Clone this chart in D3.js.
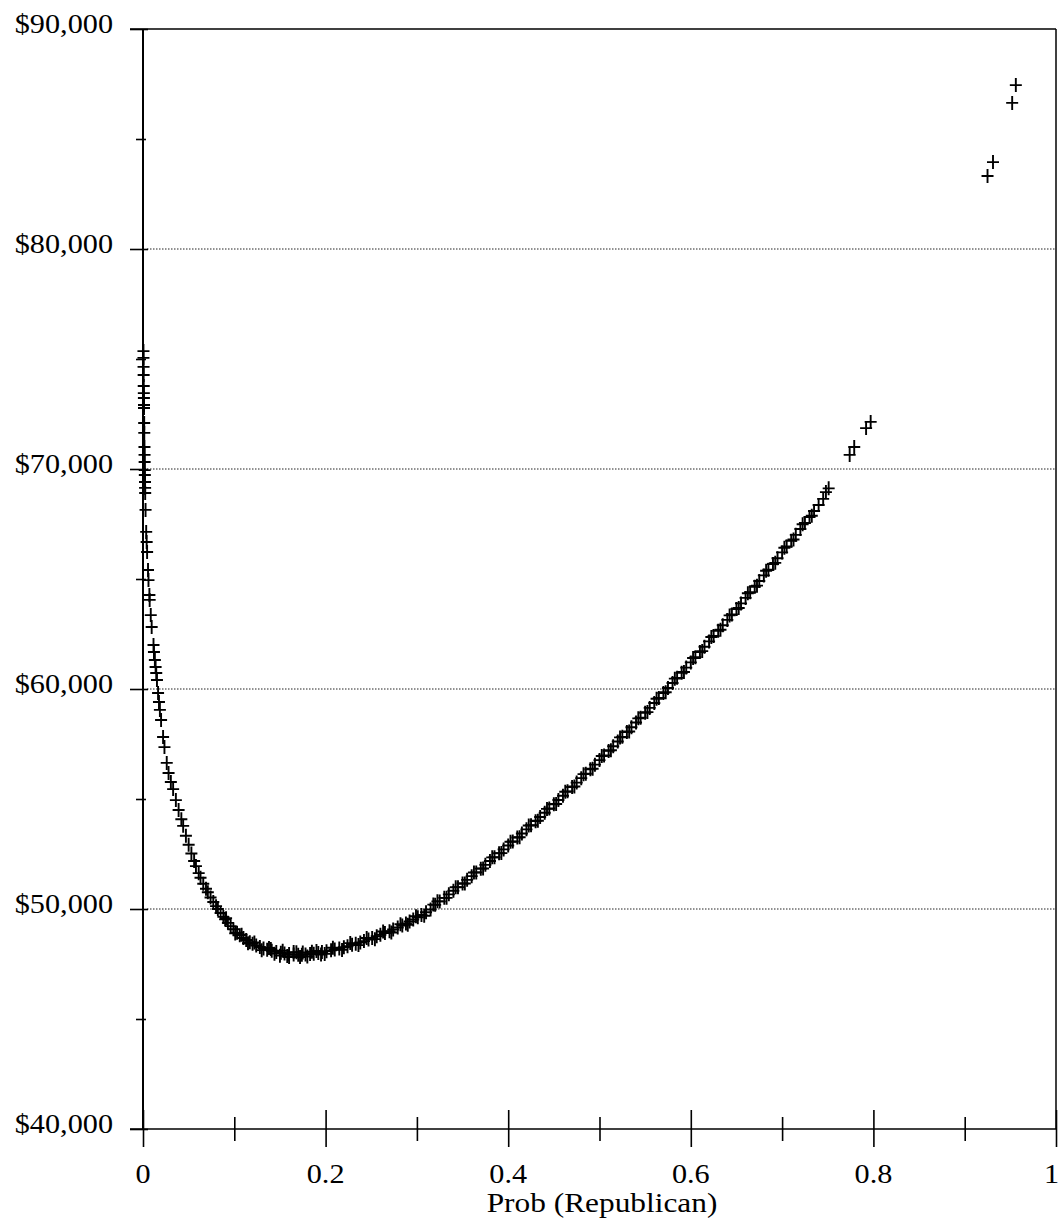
<!DOCTYPE html>
<html>
<head>
<meta charset="utf-8">
<script src="https://cdn.jsdelivr.net/npm/d3@7/dist/d3.min.js"></script>
<style>
  html, body { margin: 0; padding: 0; background: #fff; }
  svg { display: block; }
  text { font-family: "Liberation Serif", "Times New Roman", serif; fill: #000; }
</style>
</head>
<body>
<svg id="chart" width="1060" height="1222"></svg>
<script>
// ---- data ----
const prob = [
  // steep left branch, near zero
  0.0005,0.0005,0.0006,0.0007,0.0008,0.0009,0.0010,0.0011,0.0011,0.0013,0.0014,0.0016,0.0017,0.0018,0.0019,0.0020,
  0.0022,0.0023,0.0024,0.0028,0.0035,0.0040,0.0045,0.0055,0.0060,0.0070,0.0073,0.0085,0.0095,0.0115,0.0120,0.0130,
  0.0138,0.0145,0.0153,0.0165,0.0175,0.0185,0.0198,0.0220,0.0235,0.0260,0.0280,0.0305,
  // descent and trough
  0.033,0.036,0.039,0.042,0.044,0.047,0.050,0.053,0.056,0.058,0.061,0.063,0.066,0.069,0.071,0.074,0.077,0.080,
  0.082,0.085,0.088,0.090,0.093,0.096,0.099,0.103,0.106,0.110,0.113,0.117,0.120,0.124,0.128,0.132,0.136,0.141,
  0.146,0.151,0.155,0.160,0.165,0.170,0.174,0.178,0.183,0.187,0.192,0.196,0.201,0.206,0.210,0.215,0.220,0.224,
  0.229,0.233,0.238,0.242,0.247,0.251,0.256,0.260,0.265,0.270,0.274,0.279,0.284,0.288,0.292,0.296,0.301,0.305,
  0.310,0.315,
  0.140,0.150,0.160,0.165,0.175,0.180,0.190,0.195,
  0.091,0.101,0.108,0.115,0.122,0.130,0.138,0.144,0.153,0.158,0.168,0.172,0.185,0.199,0.208,0.218,0.227,0.236,
  0.245,0.254,0.263,0.272,0.282,0.290,0.299,0.308,0.318,
  // rising right branch
  0.320,0.325,0.330,0.335,0.340,0.345,0.350,0.355,0.360,0.365,0.370,0.375,0.380,0.385,0.390,0.395,0.400,0.405,
  0.410,0.415,0.420,0.425,0.430,0.435,0.440,0.445,0.450,0.455,0.460,0.465,0.470,0.475,0.480,0.485,0.490,0.495,
  0.500,0.505,0.510,0.515,0.520,0.525,0.530,0.535,0.540,0.545,0.550,0.555,0.560,0.565,0.570,0.575,0.580,0.585,
  0.590,0.595,0.600,0.605,0.610,0.615,0.620,0.625,0.630,0.635,0.640,0.645,0.650,0.655,0.660,0.665,0.670,0.675,
  0.680,0.685,0.690,0.695,0.700,0.705,0.710,0.715,0.720,0.725,0.730,0.735,0.740,0.745,0.748,0.751,
  0.3225,0.3325,0.3425,0.3525,0.3625,0.3725,0.3825,0.3925,0.4025,0.4125,0.4225,0.4325,0.4425,0.4525,
  0.4625,0.4725,0.4825,0.4925,0.5025,0.5125,0.5225,0.5325,0.5425,0.5525,0.5625,0.5725,0.5825,0.5925,
  0.6025,0.6125,0.6225,0.6325,0.6425,0.6525,0.6625,0.6725,0.6825,0.6925,0.7025,0.7125,0.7225,0.7325,
  // isolated points
  0.774,0.779,0.792,0.797,0.925,0.931,0.952,0.956
];
const income = [
  75360,75050,74640,74270,73770,73450,73230,72910,72770,72090,71640,71000,70640,70320,69950,69730,
  69410,69140,68910,68140,67140,66680,66230,65410,64950,64270,64050,63360,62820,62000,61680,61320,
  61000,60730,60410,59820,59410,59050,58590,57820,57360,56640,56180,55770,
  55450,54950,54500,54080,53780,53330,52920,52520,52180,51950,51630,51420,51150,50920,50760,50520,50320,50130,
  50000,49820,49640,49530,49370,49220,49080,48920,48810,48680,48590,48490,48420,48340,48270,48210,48150,48100,
  48050,48010,47980,47950,47930,47920,47920,47930,47950,47970,48000,48040,48080,48120,48160,48210,48260,48310,
  48370,48420,48480,48540,48610,48680,48760,48830,48910,48990,49070,49160,49250,49340,49430,49520,49620,49730,
  49850,49980,
  48180,47880,47820,48040,48020,47840,48090,47930,
  49580,48890,48830,48440,48480,48130,48230,47970,48100,47860,48030,47820,48060,47960,48240,48140,48450,48360,
  48680,48630,48980,48930,49310,49280,49670,49690,50200,
  50188,50346,50506,50667,50830,50994,51158,51325,51493,51663,51834,52006,52180,52355,52532,52709,52888,53069,
  53251,53435,53620,53806,53994,54183,54373,54565,54758,54953,55149,55347,55546,55746,55948,56150,56355,56561,
  56768,56977,57187,57399,57612,57826,58041,58258,58477,58697,58918,59141,59365,59591,59818,60046,60275,60507,
  60739,60973,61209,61445,61684,61923,62163,62406,62650,62895,63141,63389,63639,63890,64142,64395,64650,64906,
  65164,65423,65684,65946,66209,66474,66739,67007,67276,67547,67818,68092,68366,68642,68950,69120,
  50347,50507,50992,51162,51658,51840,52347,52540,53058,53263,53793,54008,54549,54775,
  55328,55566,56129,56378,56952,57213,57799,58070,58667,58950,59558,59852,60471,60776,
  61407,61723,62364,62692,63345,63684,64349,64698,65373,65735,66422,66793,67491,67875,
  70640,71000,71860,72140,83320,83950,86640,87450
];

const xMajorTicks = [0, 0.2, 0.4, 0.6, 0.8, 1];
const xMinorTicks = [0.1, 0.3, 0.5, 0.7, 0.9];
const xTickLabels = ["0", "0.2", "0.4", "0.6", "0.8", "1"];
const yMajorTicks = [40000, 50000, 60000, 70000, 80000, 90000];
const yMinorTicks = [45000, 55000, 65000, 75000, 85000];
const gridValues = [50000, 60000, 70000, 80000];
const xTitle = "Prob (Republican)";

// ---- drawing ----
const svg = d3.select("#chart");
svg.append("rect").attr("width", 1060).attr("height", 1222).attr("fill", "#fff");

const x = d3.scaleLinear().domain([0, 1]).range([143, 1056]);
const y = d3.scaleLinear().domain([40000, 90000]).range([1129, 29]);
const fmt = d3.format("$,");

// gridlines
svg.append("g").selectAll("line").data(gridValues).join("line")
  .attr("x1", x(0) + 4).attr("x2", x(1))
  .attr("y1", d => y(d)).attr("y2", d => y(d))
  .attr("stroke", "#222").attr("stroke-width", 1).attr("stroke-dasharray", "1.5,1.5");

// frame: top and right
svg.append("line").attr("x1", 130).attr("x2", x(1)).attr("y1", y(90000)).attr("y2", y(90000))
  .attr("stroke", "#000").attr("stroke-width", 1.5);
svg.append("line").attr("x1", x(1)).attr("x2", x(1)).attr("y1", y(90000)).attr("y2", y(40000))
  .attr("stroke", "#000").attr("stroke-width", 1.5);

// axis lines
svg.append("line").attr("x1", x(0)).attr("x2", x(0)).attr("y1", y(90000)).attr("y2", y(40000))
  .attr("stroke", "#000").attr("stroke-width", 2);
svg.append("line").attr("x1", 130).attr("x2", x(1)).attr("y1", y(40000)).attr("y2", y(40000))
  .attr("stroke", "#000").attr("stroke-width", 1.5);

// x ticks (crossing the axis)
const xMajG = svg.append("g").attr("transform", `translate(0,${y(40000) - 19})`)
  .call(d3.axisBottom(x).tickValues(xMajorTicks).tickSize(37).tickFormat(""));
const xMinG = svg.append("g").attr("transform", `translate(0,${y(40000) - 12})`)
  .call(d3.axisBottom(x).tickValues(xMinorTicks).tickSize(24).tickFormat(""));
// y ticks (crossing the axis)
const yMajG = svg.append("g").attr("transform", `translate(${x(0) + 5},0)`)
  .call(d3.axisLeft(y).tickValues(yMajorTicks).tickSize(18).tickFormat(""));
const yMinG = svg.append("g").attr("transform", `translate(${x(0) + 3},0)`)
  .call(d3.axisLeft(y).tickValues(yMinorTicks).tickSize(10).tickFormat(""));
[xMajG, xMinG, yMajG, yMinG].forEach(g => {
  g.select(".domain").remove();
  g.selectAll("line").attr("stroke", "#000").attr("stroke-width", 1.6);
});

// tick labels
const last = xMajorTicks.length - 1;
svg.append("g").selectAll("text").data(xMajorTicks).join("text")
  .attr("transform", (d, i) => `translate(${i === last ? 1059 : x(d)},1183) scale(1.12,1)`)
  .attr("text-anchor", (d, i) => i === last ? "end" : "middle").attr("font-size", 27)
  .text((d, i) => xTickLabels[i]);

svg.append("g").selectAll("text").data(yMajorTicks).join("text")
  .attr("transform", d => `translate(113,${y(d) + 4}) scale(1.12,1)`)
  .attr("text-anchor", "end").attr("font-size", 27)
  .text(d => fmt(d));

// axis title
svg.append("text")
  .attr("transform", "translate(602,1212) scale(1.12,1)")
  .attr("text-anchor", "middle").attr("font-size", 28)
  .text(xTitle);

// markers
const pts = prob.map((p, i) => ({ p, v: income[i] }));
svg.append("g").selectAll("path").data(pts).join("path")
  .attr("transform", d => `translate(${x(d.p)},${y(d.v)})`)
  .attr("d", "M-6,0H6M0,-7V7")
  .attr("stroke", "#000").attr("stroke-width", 1.9).attr("fill", "none");
</script>
</body>
</html>
